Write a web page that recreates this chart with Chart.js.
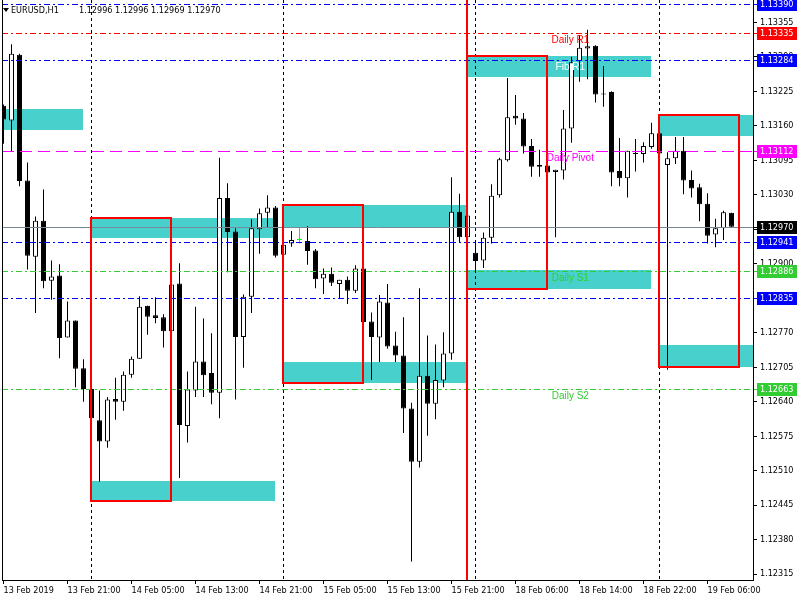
<!DOCTYPE html>
<html><head><meta charset="utf-8">
<script src="https://cdn.jsdelivr.net/npm/chart.js@4.4.1/dist/chart.umd.min.js"></script>
<style>html,body{margin:0;padding:0;background:#fff}canvas{display:block}</style>
</head><body>
<canvas id="c" width="800" height="600"></canvas>
<script>
// ---- data ----
const symbolTitle = "EURUSD,H1";
const headerPrices = ["1.12996", "1.12996", "1.12969", "1.12970"];

const opens = [1.13198,1.13170,1.13294,1.13057,1.12913,1.12981,1.12868,1.12878,1.12761,1.12793,
1.12703,1.12664,1.12605,1.12565,1.12645,1.12640,1.12691,1.12721,1.12821,1.12803,
1.12799,1.12773,1.12863,1.12594,1.12661,1.12716,1.12694,1.12657,1.13024,1.12961,
1.12762,1.12838,1.12965,1.12996,1.13006,1.12917,1.12938,1.12945,1.12943,1.12925,
1.12872,1.12881,1.12862,1.12870,1.12849,1.12891,1.12791,1.12761,1.12827,1.12746,
1.12727,1.12627,1.12527,1.12689,1.12636,1.12680,1.12731,1.12998,1.12950,1.12921,
1.12906,1.12949,1.13029,1.13095,1.13179,1.13174,1.13122,1.13086,1.13085,1.13073,
1.13076,1.13155,1.13282,1.13306,1.13311,1.13220,1.13224,1.13075,1.13061,1.13109,
1.13107,1.13120,1.13146,1.13086,1.13099,1.13113,1.13058,1.13044,1.13013,1.12955,
1.12967,1.12996];
const highs = [1.13200,1.13314,1.13296,1.13091,1.12989,1.13040,1.12906,1.12899,1.12829,1.12793,
1.12720,1.12677,1.12661,1.12649,1.12685,1.12697,1.12725,1.12839,1.12821,1.12837,
1.12805,1.12861,1.12901,1.12697,1.12819,1.12797,1.12769,1.13100,1.13052,1.12967,
1.12842,1.12984,1.13004,1.13029,1.13009,1.12947,1.12962,1.12969,1.12971,1.12928,
1.12891,1.12893,1.12870,1.12876,1.12897,1.12913,1.12808,1.12841,1.12862,1.12772,
1.12799,1.12638,1.12854,1.12765,1.12748,1.12771,1.13063,1.13032,1.12998,1.12939,
1.12959,1.13050,1.13100,1.13250,1.13218,1.13184,1.13135,1.13115,1.13157,1.13077,
1.13190,1.13290,1.13331,1.13341,1.13312,1.13273,1.13225,1.13137,1.13113,1.13135,
1.13129,1.13166,1.13157,1.13110,1.13139,1.13139,1.13076,1.13051,1.13033,1.12985,
1.13000,1.12996];
const lows = [1.13126,1.13111,1.13046,1.12889,1.12807,1.12854,1.12832,1.12722,1.12761,1.12667,
1.12640,1.12609,1.12489,1.12553,1.12606,1.12623,1.12685,1.12721,1.12766,1.12788,
1.12742,1.12715,1.12496,1.12563,1.12649,1.12649,1.12635,1.12609,1.12884,1.12644,
1.12704,1.12807,1.12919,1.12969,1.12912,1.12908,1.12932,1.12938,1.12898,1.12854,
1.12843,1.12858,1.12834,1.12824,1.12845,1.12714,1.12681,1.12715,1.12740,1.12715,
1.12581,1.12339,1.12516,1.12576,1.12607,1.12667,1.12719,1.12939,1.12946,1.12888,
1.12892,1.12938,1.13025,1.13093,1.13162,1.13108,1.13064,1.13064,1.13015,1.12950,
1.13059,1.13128,1.13243,1.13248,1.13204,1.13196,1.13046,1.13046,1.13025,1.13074,
1.13091,1.13117,1.13085,1.12700,1.13088,1.13031,1.13025,1.12980,1.12938,1.12931,
1.12945,1.12969];
const closes = [1.13172,1.13296,1.13056,1.12915,1.12981,1.12867,1.12876,1.12760,1.12793,1.12702,
1.12664,1.12609,1.12565,1.12644,1.12640,1.12691,1.12721,1.12819,1.12800,1.12798,
1.12773,1.12861,1.12596,1.12663,1.12716,1.12690,1.12657,1.13024,1.12960,1.12762,
1.12838,1.12967,1.12995,1.13006,1.12915,1.12936,1.12945,1.12945,1.12924,1.12871,
1.12881,1.12864,1.12870,1.12849,1.12891,1.12790,1.12762,1.12829,1.12744,1.12727,
1.12627,1.12527,1.12689,1.12636,1.12681,1.12731,1.12998,1.12950,1.12991,1.12905,
1.12949,1.13028,1.13097,1.13176,1.13174,1.13121,1.13083,1.13083,1.13072,1.13077,
1.13155,1.13280,1.13307,1.13310,1.13219,1.13219,1.13072,1.13061,1.13113,1.13107,
1.13122,1.13146,1.13108,1.13099,1.13113,1.13057,1.13042,1.13012,1.12953,1.12967,
1.12997,1.12970];

const timeLabelBars = [0, 8, 16, 24, 32, 40, 48, 56, 64, 72, 80, 88];
const timeLabels = ["13 Feb 2019", "13 Feb 21:00", "14 Feb 05:00", "14 Feb 13:00", "14 Feb 21:00",
  "15 Feb 05:00", "15 Feb 13:00", "15 Feb 21:00", "18 Feb 06:00", "18 Feb 14:00", "18 Feb 22:00", "19 Feb 06:00"];

const priceTicks = [1.12315, 1.12380, 1.12445, 1.12510, 1.12575, 1.12640, 1.12705, 1.12770, 1.12835,
  1.12900, 1.12965, 1.13030, 1.13095, 1.13160, 1.13225, 1.13290, 1.13355];

const levelPrices = [1.13390, 1.13335, 1.13284, 1.13112, 1.12970, 1.12941, 1.12886, 1.12835, 1.12663];
const levelNames = ["", "Daily R1", "Fib R1", "Daily Pivot", "", "", "Daily S1", "", "Daily S2"];

const separatorBars = [11, 35, 59, 82];
const markerBar = 58;

const zoneStart = [-1, 11, 11, 35, 35, 58, 58, 82, 82];
const zoneEnd = [9.9, 33.9, 33.9, 57.8, 57.8, 80.9, 80.9, 96, 96];
const zoneTop = [1.13191, 1.12987, 1.12491, 1.13010, 1.12714, 1.13291, 1.12889, 1.13181, 1.12746];
const zoneBottom = [1.13152, 1.12948, 1.12452, 1.12970, 1.12675, 1.13252, 1.12852, 1.13140, 1.12706];

const boxStart = [11, 35, 58, 82];
const boxEnd = [21, 45, 68, 92];
const boxTop = [1.12987, 1.13010, 1.13291, 1.13181];
const boxBottom = [1.12452, 1.12675, 1.12852, 1.12706];

// ---- styles ----
const FAMILY = '"DejaVu Sans Condensed", "Liberation Sans", sans-serif';
const FONT = '9px ' + FAMILY;
const NAME_FONT = '10px "Liberation Sans", sans-serif';
const levelColors = ['#0000FF', '#FF0000', '#0000FF', '#FF00FF', '#778899', '#0000FF', '#32CD32', '#0000FF', '#32CD32'];
const levelLabelBg = ['#0000FF', '#FF0000', '#0000FF', '#FF00FF', '#000000', '#0000FF', '#32CD32', '#0000FF', '#32CD32'];
const levelDash = [[6,3,2,3], [6,3,2,3], [6,3,2,3], [12,6], [], [6,3,2,3], [6,3,2,3], [6,3,2,3], [6,3,2,3]];
const levelTextColor = ['', '#FF0000', '#FFFFFF', '#FF00FF', '', '', '#32CD32', '', '#32CD32'];
const textBar = 70.85;

const bodyData = opens.map((o, i) => ({x: i, y: [o, closes[i]]}));
const wickData = highs.map((h, i) => ({x: i, y: [lows[i], h]}));
const bodyFill = opens.map((o, i) => closes[i] === o ? '#00FF00' : (closes[i] > o ? '#FFFFFF' : '#000000'));
const bodyBorder = opens.map((o, i) => closes[i] === o ? '#00FF00' : '#000000');
const wickColor = opens.map((o, i) => closes[i] === o ? '#00FF00' : '#000000');

const overlay = {
  id: 'overlay',
  beforeDatasetsDraw(chart) {
    const {ctx, chartArea: a, scales: {x, y}} = chart;
    ctx.save();
    ctx.beginPath(); ctx.rect(a.left, a.top, a.right - a.left, a.bottom - a.top); ctx.clip();
    ctx.fillStyle = '#48D1CC';
    for (let i = 0; i < zoneStart.length; i++) {
      const x0 = Math.round(x.getPixelForValue(zoneStart[i]) - 0.5);
      const x1 = Math.round(x.getPixelForValue(zoneEnd[i]));
      const y0 = Math.round(y.getPixelForValue(zoneTop[i]));
      const y1 = Math.round(y.getPixelForValue(zoneBottom[i]));
      ctx.fillRect(x0, y0, x1 - x0, y1 - y0);
    }
    ctx.strokeStyle = '#000'; ctx.lineWidth = 1; ctx.setLineDash([3, 3]);
    for (const b of separatorBars) {
      const px = Math.floor(x.getPixelForValue(b)) + 0.5;
      ctx.beginPath(); ctx.moveTo(px, a.top); ctx.lineTo(px, a.bottom); ctx.stroke();
    }
    ctx.restore();
  },
  afterDatasetsDraw(chart) {
    const {ctx, chartArea: a, scales: {x, y}} = chart;
    ctx.save();
    ctx.beginPath(); ctx.rect(a.left, a.top, a.right - a.left, a.bottom - a.top); ctx.clip();
    ctx.lineWidth = 1;
    levelPrices.forEach((p, i) => {
      const py = Math.round(y.getPixelForValue(p)) + 0.5;
      ctx.strokeStyle = levelColors[i]; ctx.setLineDash(levelDash[i]);
      ctx.beginPath(); ctx.moveTo(a.left, py); ctx.lineTo(a.right, py); ctx.stroke();
    });
    ctx.setLineDash([]);
    ctx.strokeStyle = '#FF0000'; ctx.lineWidth = 2;
    for (let i = 0; i < boxStart.length; i++) {
      const x0 = Math.floor(x.getPixelForValue(boxStart[i]));
      const x1 = Math.floor(x.getPixelForValue(boxEnd[i]));
      const y0 = Math.round(y.getPixelForValue(boxTop[i]));
      const y1 = Math.round(y.getPixelForValue(boxBottom[i]));
      ctx.strokeRect(x0, y0, x1 - x0, y1 - y0);
    }
    ctx.lineWidth = 2;
    const mx = Math.floor(x.getPixelForValue(markerBar));
    ctx.beginPath(); ctx.moveTo(mx, a.top); ctx.lineTo(mx, a.bottom); ctx.stroke();
    ctx.font = NAME_FONT; ctx.textAlign = 'center'; ctx.textBaseline = 'top';
    const tx = x.getPixelForValue(textBar);
    levelNames.forEach((t, i) => {
      if (!t) return;
      ctx.fillStyle = levelTextColor[i];
      ctx.fillText(t, tx, Math.round(y.getPixelForValue(levelPrices[i])) + 2);
    });
    ctx.restore();
  },
  afterDraw(chart) {
    const {ctx, chartArea: a, scales: {y}} = chart;
    ctx.save();
    ctx.fillStyle = '#000';
    ctx.fillRect(a.left, 0, 1, a.bottom);
    ctx.font = FONT; ctx.textAlign = 'left'; ctx.textBaseline = 'middle';
    levelPrices.forEach((p, i) => {
      const py = Math.round(y.getPixelForValue(p));
      ctx.fillStyle = levelLabelBg[i];
      ctx.fillRect(a.right + 1, py, 3, 1);
      ctx.fillRect(a.right + 4, py - 6, 40, 13);
      ctx.fillStyle = '#FFFFFF';
      ctx.fillText(p.toFixed(5), a.right + 7, py + 0.5);
    });
    ctx.fillStyle = '#000';
    ctx.beginPath(); ctx.moveTo(3, 8); ctx.lineTo(9, 8); ctx.lineTo(6, 12); ctx.closePath(); ctx.fill();
    ctx.textBaseline = 'middle';
    ctx.fillText(symbolTitle, 11, 10.5);
    ctx.fillText(headerPrices.join(' '), 79, 10.5);
    ctx.restore();
  }
};

new Chart(document.getElementById('c'), {
  type: 'bar',
  data: {
    datasets: [
      {data: bodyData, backgroundColor: bodyFill, borderColor: bodyBorder, borderWidth: 1,
       borderSkipped: false, barThickness: 5, grouped: false, order: 0, minBarLength: 1, inflateAmount: 0},
      {data: wickData, backgroundColor: wickColor, borderWidth: 0,
       barThickness: 1, grouped: false, order: 1, inflateAmount: 0}
    ]
  },
  options: {
    responsive: false, animation: false, devicePixelRatio: 1,
    layout: {padding: {left: 2, top: 0, right: 0, bottom: 0}, autoPadding: false},
    plugins: {legend: {display: false}, tooltip: {enabled: false}},
    scales: {
      x: {
        type: 'linear', position: 'bottom', offset: false,
        min: -0.1875, max: 93.6875,
        afterBuildTicks(ax) { ax.ticks = timeLabelBars.map(v => ({value: v})); },
        afterFit(ax) { ax.height = 20; ax.paddingLeft = 0; ax.paddingRight = 0; },
        grid: {drawOnChartArea: false, drawTicks: true, tickLength: 4, color: '#000', offset: false},
        border: {display: true, color: '#000'},
        ticks: {autoSkip: false, maxRotation: 0, align: 'start', padding: 1, color: '#000',
          font: {family: FAMILY, size: 9},
          callback: v => timeLabels[timeLabelBars.indexOf(v)]}
      },
      y: {
        type: 'linear', position: 'right', min: 1.123039, max: 1.133972, beginAtZero: false,
        afterBuildTicks(ax) { ax.ticks = priceTicks.map(v => ({value: v})); },
        afterFit(ax) { ax.width = 47; ax.paddingTop = 0; ax.paddingBottom = 0; },
        grid: {drawOnChartArea: false, drawTicks: true, tickLength: 4, color: '#000'},
        border: {display: true, color: '#000'},
        ticks: {padding: 3, color: '#000', font: {family: FAMILY, size: 9},
          callback: v => Number(v).toFixed(5)}
      }
    }
  },
  plugins: [overlay]
});
</script>
</body></html>
